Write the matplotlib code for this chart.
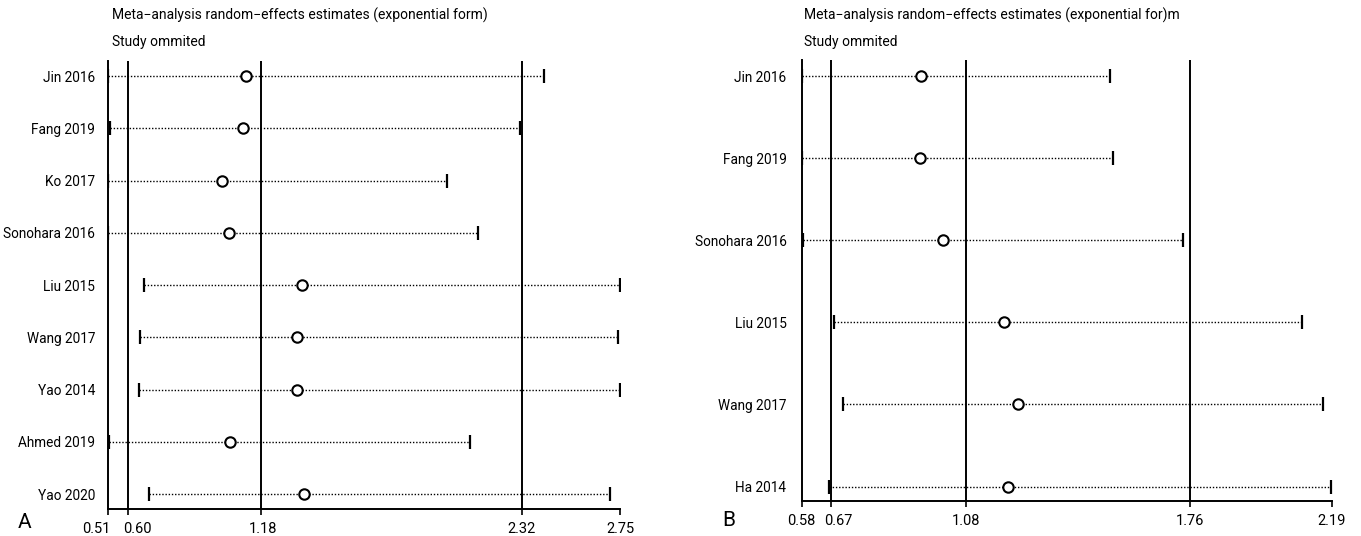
import numpy as np
import matplotlib
matplotlib.use("Agg")
import matplotlib.pyplot as plt
import matplotlib.transforms as mtransforms

plt.rcParams['font.family'] = ['Roboto', 'DejaVu Sans']

# panel A - study omitted estimates
studies_a = ["Jin 2016", "Fang 2019", "Ko 2017", "Sonohara 2016", "Liu 2015",
             "Wang 2017", "Yao 2014", "Ahmed 2019", "Yao 2020"]
est_a = [1.116, 1.101, 1.012, 1.042, 1.361, 1.340, 1.340, 1.044, 1.369]
low_a = [0.510, 0.521, 0.510, 0.510, 0.670, 0.652, 0.649, 0.517, 0.690]
up_a = [2.420, 2.315, 1.993, 2.129, 2.750, 2.740, 2.750, 2.093, 2.708]
ref_a = [0.60, 1.18, 2.32]
ticks_a = [0.51, 0.60, 1.18, 2.32, 2.75]

# panel B
studies_b = ["Jin 2016", "Fang 2019", "Sonohara 2016", "Liu 2015", "Wang 2017", "Ha 2014"]
est_b = [0.943, 0.939, 1.008, 1.195, 1.237, 1.206]
low_b = [0.580, 0.580, 0.583, 0.678, 0.706, 0.664]
up_b = [1.517, 1.526, 1.740, 2.101, 2.163, 2.188]
ref_b = [0.67, 1.08, 1.76]
ticks_b = [0.58, 0.67, 1.08, 1.76, 2.19]

W, H = 1361, 536
fig = plt.figure(figsize=(W / 100, H / 100), dpi=100)


def px_axes(x0, x1, ytop, ybot):
    return fig.add_axes([x0 / W, 1 - ybot / H, (x1 - x0) / W, (ybot - ytop) / H])


def draw_panel(ax, studies, est, low, up, refs, ticks, pad_top, pad_bot, ypad, shifts):
    n = len(studies)
    y = np.arange(n)
    for i in range(n):
        ax.plot([low[i], up[i]], [y[i], y[i]], color="black", lw=1.0,
                linestyle=(0, (1, 1.3)), zorder=2)
    ax.plot(low, y, linestyle="none", marker="|", ms=10, mew=1.6, color="black", zorder=3)
    ax.plot(up, y, linestyle="none", marker="|", ms=10, mew=1.6, color="black", zorder=3)
    ax.plot(est, y, linestyle="none", marker="o", ms=7.5, mfc="white", mec="black",
            mew=1.5, zorder=4)
    for r in refs:
        ax.axvline(r, color="black", lw=1.4, zorder=1)
    ax.set_xlim(ticks[0], ticks[-1])
    ax.set_ylim(n - 1 + pad_bot, -pad_top)
    ax.set_yticks(y)
    ax.set_yticklabels(studies, fontsize=9.8)
    ax.set_xticks(ticks)
    ax.set_xticklabels(["%.2f" % t for t in ticks], fontsize=10.5)
    ax.tick_params(axis="y", length=0, pad=ypad)
    ax.tick_params(axis="x", length=4, width=1.2, direction="out", pad=5)
    ax.spines["top"].set_visible(False)
    ax.spines["right"].set_visible(False)
    ax.spines["left"].set_linewidth(1.4)
    ax.spines["bottom"].set_linewidth(1.4)
    ax.patch.set_alpha(0)
    # the two left tick labels sit close together, nudge them apart
    for lab, dx in zip(ax.get_xticklabels(), shifts):
        if dx:
            lab.set_transform(lab.get_transform() +
                              mtransforms.ScaledTranslation(dx / 100, 0, fig.dpi_scale_trans))


axA = px_axes(107.5, 620, 61, 509.3)
draw_panel(axA, studies_a, est_a, low_a, up_a, ref_a, ticks_a, 0.29, 0.29, 9, [-11, 9, 2, 0, 0])

axB = px_axes(801.7, 1331.5, 60, 501.3)
draw_panel(axB, studies_b, est_b, low_b, up_b, ref_b, ticks_b, 0.195, 0.18, 11, [0, 7, 0, 0, 0])

fig.text(112 / W, 1 - 15 / H, "Meta\u2212analysis random\u2212effects estimates (exponential form)",
         fontsize=10, va="center", ha="left")
fig.text(112 / W, 1 - 42 / H, "Study ommited", fontsize=10, va="center", ha="left")
fig.text(804 / W, 1 - 15 / H, "Meta\u2212analysis random\u2212effects estimates (exponential for)m",
         fontsize=10, va="center", ha="left")
fig.text(804 / W, 1 - 42 / H, "Study ommited", fontsize=10, va="center", ha="left")

fig.text(25 / W, 1 - 523 / H, "A", fontsize=15, va="center", ha="center")
fig.text(729 / W, 1 - 521 / H, "B", fontsize=15, va="center", ha="center")

fig.savefig("out.png", dpi=100)
